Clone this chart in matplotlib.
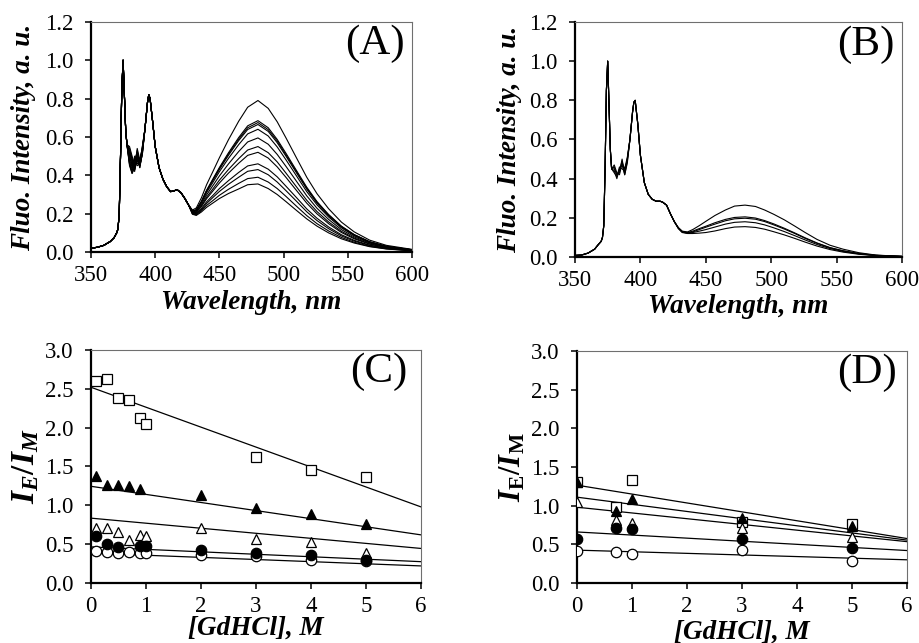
import numpy as np
import matplotlib
matplotlib.use("Agg")
import matplotlib.pyplot as plt

plt.rcParams['font.family'] = ['Liberation Serif', 'DejaVu Serif']
plt.rcParams['mathtext.fontset'] = 'custom'
plt.rcParams['mathtext.rm'] = 'Liberation Serif'
plt.rcParams['mathtext.it'] = 'Liberation Serif:italic'
plt.rcParams['mathtext.bf'] = 'Liberation Serif:bold'
plt.rcParams['mathtext.bfit'] = 'Liberation Serif:bold:italic'

# ---- spectra (A) and (B): wavelength segments ----
wl_head = [350, 355, 360, 365, 368, 370, 371, 372, 373, 374, 375, 376, 377, 378]
wl_dip = [380, 382, 384, 386, 388, 390]
wl_mid = [392, 394, 395, 396, 398, 400, 403, 406, 409, 412, 415, 417, 420, 423, 426]
wl_band = [429, 432, 436, 440, 445, 450, 457, 465, 472, 480, 488,
           495, 502, 510, 518, 526, 535, 545, 555, 567, 580, 600]

# panel A
head_a = [0.02, 0.025, 0.035, 0.055, 0.075, 0.10, 0.12, 0.20, 0.50, 0.85, 1.00, 0.82, 0.64, 0.56]
mid_a = [0.64, 0.78, 0.82, 0.80, 0.68, 0.55, 0.44, 0.38, 0.34, 0.315, 0.32, 0.325, 0.31, 0.28, 0.245]
dip_a = [
    [0.55, 0.50, 0.45, 0.53, 0.47, 0.53],
    [0.52, 0.47, 0.43, 0.51, 0.46, 0.54],
    [0.50, 0.45, 0.47, 0.49, 0.44, 0.52],
    [0.48, 0.44, 0.50, 0.46, 0.47, 0.55],
    [0.46, 0.42, 0.48, 0.52, 0.45, 0.51],
    [0.45, 0.41, 0.44, 0.54, 0.48, 0.53],
    [0.53, 0.48, 0.42, 0.50, 0.45, 0.52],
    [0.49, 0.46, 0.46, 0.47, 0.48, 0.54],
    [0.47, 0.43, 0.49, 0.45, 0.46, 0.55],
    [0.51, 0.45, 0.44, 0.52, 0.44, 0.52],
    [0.46, 0.41, 0.45, 0.50, 0.47, 0.53],
    [0.54, 0.49, 0.43, 0.48, 0.45, 0.51],
]
band_a = [
    [0.219, 0.230, 0.283, 0.351, 0.421, 0.492, 0.585, 0.682, 0.755, 0.790, 0.749,
     0.679, 0.593, 0.491, 0.390, 0.304, 0.226, 0.156, 0.105, 0.062, 0.035, 0.014],
    [0.214, 0.221, 0.265, 0.322, 0.382, 0.441, 0.517, 0.597, 0.658, 0.685, 0.648,
     0.587, 0.513, 0.425, 0.338, 0.263, 0.196, 0.135, 0.091, 0.054, 0.030, 0.012],
    [0.213, 0.220, 0.263, 0.320, 0.378, 0.436, 0.511, 0.589, 0.648, 0.675, 0.638,
     0.579, 0.505, 0.419, 0.333, 0.259, 0.193, 0.133, 0.090, 0.053, 0.030, 0.012],
    [0.213, 0.219, 0.261, 0.317, 0.374, 0.431, 0.504, 0.581, 0.639, 0.665, 0.629,
     0.570, 0.498, 0.413, 0.328, 0.255, 0.190, 0.131, 0.088, 0.052, 0.029, 0.012],
    [0.212, 0.217, 0.257, 0.310, 0.364, 0.419, 0.488, 0.560, 0.616, 0.640, 0.605,
     0.548, 0.479, 0.397, 0.315, 0.246, 0.183, 0.126, 0.085, 0.050, 0.028, 0.011],
    [0.209, 0.213, 0.249, 0.298, 0.347, 0.397, 0.459, 0.524, 0.574, 0.595, 0.562,
     0.509, 0.445, 0.369, 0.293, 0.228, 0.170, 0.117, 0.079, 0.047, 0.026, 0.011],
    [0.207, 0.209, 0.242, 0.286, 0.330, 0.375, 0.430, 0.487, 0.532, 0.550, 0.518,
     0.470, 0.410, 0.340, 0.270, 0.211, 0.157, 0.108, 0.073, 0.043, 0.024, 0.010],
    [0.206, 0.206, 0.237, 0.278, 0.319, 0.360, 0.411, 0.463, 0.504, 0.520, 0.490,
     0.444, 0.388, 0.321, 0.255, 0.199, 0.148, 0.102, 0.069, 0.041, 0.023, 0.009],
    [0.203, 0.201, 0.227, 0.262, 0.296, 0.331, 0.372, 0.415, 0.449, 0.460, 0.432,
     0.392, 0.342, 0.284, 0.225, 0.176, 0.131, 0.090, 0.061, 0.036, 0.020, 0.008],
    [0.201, 0.198, 0.221, 0.253, 0.285, 0.316, 0.353, 0.390, 0.421, 0.430, 0.403,
     0.365, 0.319, 0.265, 0.210, 0.164, 0.122, 0.084, 0.057, 0.034, 0.019, 0.008],
    [0.199, 0.194, 0.215, 0.243, 0.269, 0.296, 0.327, 0.358, 0.383, 0.390, 0.365,
     0.331, 0.289, 0.239, 0.190, 0.148, 0.110, 0.076, 0.051, 0.030, 0.017, 0.007],
    [0.197, 0.191, 0.209, 0.233, 0.256, 0.279, 0.305, 0.329, 0.351, 0.355, 0.331,
     0.300, 0.262, 0.217, 0.173, 0.135, 0.100, 0.069, 0.047, 0.028, 0.016, 0.006],
]

# panel B
head_b = [0.008, 0.01, 0.02, 0.04, 0.065, 0.08, 0.10, 0.16, 0.45, 0.85, 1.00, 0.78, 0.55, 0.45]
mid_b = [0.60, 0.74, 0.79, 0.80, 0.68, 0.52, 0.38, 0.32, 0.295, 0.285, 0.285, 0.28, 0.265, 0.22, 0.18]
dip_b = [
    [0.46, 0.42, 0.44, 0.49, 0.43, 0.50],
    [0.44, 0.40, 0.45, 0.47, 0.42, 0.49],
    [0.47, 0.43, 0.42, 0.48, 0.45, 0.51],
    [0.43, 0.41, 0.46, 0.45, 0.44, 0.50],
    [0.45, 0.42, 0.43, 0.50, 0.42, 0.48],
]
band_b = [
    [0.150, 0.132, 0.128, 0.140, 0.160, 0.182, 0.212, 0.240, 0.260, 0.265, 0.258,
     0.240, 0.218, 0.190, 0.158, 0.125, 0.090, 0.060, 0.040, 0.022, 0.010, 0.003],
    [0.150, 0.130, 0.125, 0.132, 0.145, 0.157, 0.175, 0.192, 0.202, 0.205, 0.199,
     0.186, 0.169, 0.147, 0.123, 0.098, 0.072, 0.048, 0.032, 0.018, 0.009, 0.003],
    [0.148, 0.128, 0.123, 0.128, 0.140, 0.152, 0.168, 0.185, 0.195, 0.198, 0.193,
     0.181, 0.164, 0.143, 0.120, 0.095, 0.070, 0.047, 0.031, 0.017, 0.008, 0.003],
    [0.147, 0.127, 0.122, 0.125, 0.132, 0.140, 0.153, 0.168, 0.177, 0.180, 0.175,
     0.164, 0.149, 0.130, 0.109, 0.087, 0.064, 0.043, 0.028, 0.016, 0.008, 0.003],
    [0.145, 0.125, 0.120, 0.120, 0.122, 0.125, 0.133, 0.145, 0.153, 0.155, 0.151,
     0.142, 0.129, 0.113, 0.095, 0.076, 0.056, 0.038, 0.025, 0.014, 0.007, 0.003],
]

# ---- ratio plots (C) and (D) ----
c_sq_x = [0.1, 0.3, 0.5, 0.7, 0.9, 1.0, 3, 4, 5]
c_sq_y = [2.60, 2.63, 2.38, 2.35, 2.12, 2.05, 1.62, 1.46, 1.37]
c_trf_x = [0.1, 0.3, 0.5, 0.7, 0.9, 2, 3, 4, 5]
c_trf_y = [1.38, 1.26, 1.26, 1.25, 1.21, 1.13, 0.96, 0.89, 0.76]
c_tro_x = [0.1, 0.3, 0.5, 0.7, 0.9, 1.0, 2, 3, 4, 5]
c_tro_y = [0.71, 0.71, 0.66, 0.56, 0.62, 0.60, 0.71, 0.57, 0.53, 0.38]
c_cif_x = [0.1, 0.3, 0.5, 0.9, 1.0, 2, 3, 4, 5]
c_cif_y = [0.60, 0.50, 0.46, 0.48, 0.48, 0.42, 0.39, 0.36, 0.29]
c_cio_x = [0.1, 0.3, 0.5, 0.7, 0.9, 1.0, 2, 3, 4, 5]
c_cio_y = [0.41, 0.40, 0.39, 0.40, 0.39, 0.39, 0.36, 0.35, 0.30, 0.28]
# fitted lines (slope, intercept)
c_fits = [(-0.2567, 2.52), (-0.1042, 1.245), (-0.065, 0.835), (-0.0317, 0.465), (-0.0275, 0.385)]

d_x = [0, 0.7, 1, 3, 5]
d_sq_y = [1.30, 0.98, 1.33, 0.79, 0.76]
d_trf_y = [1.31, 0.93, 1.09, 0.84, 0.74]
d_tro_y = [1.05, 0.82, 0.77, 0.71, 0.60]
d_cif_y = [0.57, 0.71, 0.70, 0.57, 0.45]
d_cio_y = [0.42, 0.40, 0.37, 0.43, 0.29]
d_fits = [(-0.115, 1.265), (-0.0925, 1.11), (-0.0742, 0.98), (-0.04, 0.66), (-0.0208, 0.425)]

TICK = 16.5
LAB = 19.5


def style(ax):
    for s in ['left', 'bottom']:
        ax.spines[s].set_linewidth(1.6)
        ax.spines[s].set_color('black')
    for s in ['top', 'right']:
        ax.spines[s].set_linewidth(0.8)
        ax.spines[s].set_color('#6f6f6f')
    ax.tick_params(direction='out', length=4.5, width=1.1, labelsize=TICK,
                   top=False, right=False)
    ax.tick_params(axis='y', pad=8)
    ax.tick_params(axis='x', pad=5)


fig = plt.figure(figsize=(9.2, 6.43), dpi=100)

axA = fig.add_axes([0.0989, 0.608, 0.349, 0.358])
axB = fig.add_axes([0.625, 0.6003, 0.3554, 0.3655])
axC = fig.add_axes([0.0989, 0.0933, 0.3587, 0.3624])
axD = fig.add_axes([0.6272, 0.0933, 0.3587, 0.3608])

wl = wl_head + wl_dip + wl_mid + wl_band
for d, b in zip(dip_a, band_a):
    axA.plot(wl, head_a + d + mid_a + b, color='black', lw=0.8)
for d, b in zip(dip_b, band_b):
    axB.plot(wl, head_b + d + mid_b + b, color='black', lw=0.8)

for ax, lab in [(axA, '(A)'), (axB, '(B)')]:
    style(ax)
    ax.set_xlim(350, 600)
    ax.set_ylim(0, 1.2)
    ax.set_xticks(np.arange(350, 601, 50))
    ax.set_yticks(np.arange(0, 1.21, 0.2))
    ax.yaxis.set_major_formatter(matplotlib.ticker.FormatStrFormatter('%.1f'))
    ax.set_xlabel('Wavelength, nm', fontsize=LAB, fontweight='bold', fontstyle='italic')
    ax.set_ylabel('Fluo. Intensity, a. u.', fontsize=LAB, fontweight='bold', fontstyle='italic')
    ax.text(0.978, 0.905, lab, transform=ax.transAxes, ha='right', va='center', fontsize=31)

axA.yaxis.set_label_coords(-0.17, 0.5)
axA.xaxis.set_label_coords(0.5, -0.165)
axB.yaxis.set_label_coords(-0.162, 0.5)
axB.xaxis.set_label_coords(0.5, -0.158)

xs = np.array([0, 6])
for m, b in c_fits:
    axC.plot(xs, np.polyval([m, b], xs), color='black', lw=0.9, zorder=2)
for m, b in d_fits:
    axD.plot(xs, np.polyval([m, b], xs), color='black', lw=0.9, zorder=2)

mk = dict(ms=7.5, mec='black', mew=0.9, ls='none', zorder=3)
axC.plot(c_sq_x, c_sq_y, marker='s', mfc='white', **mk)
axC.plot(c_tro_x, c_tro_y, marker='^', mfc='white', **mk)
axC.plot(c_cio_x, c_cio_y, marker='o', mfc='white', **mk)
axC.plot(c_trf_x, c_trf_y, marker='^', mfc='black', **mk)
axC.plot(c_cif_x, c_cif_y, marker='o', mfc='black', **mk)

axD.plot(d_x, d_sq_y, marker='s', mfc='white', **mk)
axD.plot(d_x, d_tro_y, marker='^', mfc='white', **mk)
axD.plot(d_x, d_cio_y, marker='o', mfc='white', **mk)
axD.plot(d_x, d_trf_y, marker='^', mfc='black', **mk)
axD.plot(d_x, d_cif_y, marker='o', mfc='black', **mk)

for ax, lab, ylab, ysz in [
        (axC, '(C)', r'$\mathbfit{I}_{\mathbfit{E}}\mathbf{/}\mathbfit{I}_{\mathbfit{M}}$', 24),
        (axD, '(D)', r'$\mathbfit{I}_{\mathbf{E}}\mathbf{/}\mathbfit{I}_{\mathbf{M}}$', 22)]:
    style(ax)
    ax.set_xlim(0, 6)
    ax.set_ylim(0, 3.0)
    ax.set_xticks(range(0, 7))
    ax.set_yticks(np.arange(0, 3.01, 0.5))
    ax.yaxis.set_major_formatter(matplotlib.ticker.FormatStrFormatter('%.1f'))
    ax.set_xlabel('[GdHCl], M', fontsize=LAB, fontweight='bold', fontstyle='italic')
    ax.set_ylabel(ylab, fontsize=ysz)
    ax.text(0.96 if lab == '(C)' else 0.97, 0.905, lab, transform=ax.transAxes,
            ha='right', va='center', fontsize=31)

axC.yaxis.set_label_coords(-0.15, 0.5)
axC.xaxis.set_label_coords(0.5, -0.14)
axD.yaxis.set_label_coords(-0.15, 0.5)
axD.xaxis.set_label_coords(0.5, -0.158)

fig.savefig('out.png', dpi=100)
